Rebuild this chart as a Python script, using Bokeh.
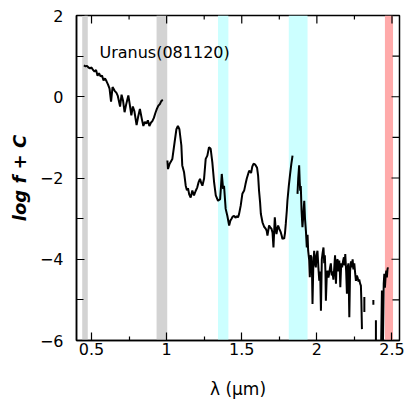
import math
from bokeh.plotting import figure
from bokeh.models import FixedTicker, Range1d, ColumnDataSource
from bokeh.core.properties import value
from bokeh.embed import file_html
from bokeh.resources import INLINE

NaN = float("nan")

# shaded wavelength bands (µm)
band_left = [0.438, 0.933, 1.342, 1.813, 2.453]
band_right = [0.475, 1.004, 1.411, 1.938, 2.507]
band_color = ["#d3d3d3", "#d3d3d3", "#ccffff", "#ccffff", "#ffaaaa"]

# spectrum: wavelength (µm) and log f + C, NaN marks gaps
wave = [
    0.449, 0.46, 0.47, 0.48, 0.49, 0.50, 0.51, 0.52, 0.53, 0.54, 0.55, 0.56, 0.57,
    0.58, 0.59, 0.60, 0.61, 0.62, 0.63, 0.64, 0.655, 0.665, 0.675, 0.69, 0.70, 0.71,
    0.72, 0.73, 0.745, 0.755, 0.765, 0.775, 0.785, 0.80, 0.81, 0.822, 0.835, 0.845,
    0.855, 0.865, 0.875, 0.885, 0.895, 0.905, 0.915, 0.925, 0.935, 0.945, 0.955,
    0.965, 0.975, NaN,
    1.005, 1.009, 1.02, 1.038, 1.053, 1.065, 1.075, 1.085, 1.098, 1.104, 1.116,
    1.127, 1.135, 1.142, 1.150, 1.160, 1.171, 1.182, 1.193, 1.204, 1.213, 1.222,
    1.230, 1.238, 1.249, 1.26, 1.271, 1.282, 1.293, 1.304, 1.316, 1.327, 1.342,
    1.356, 1.362, 1.367, 1.372, 1.376, 1.382, 1.393, 1.404, 1.416, 1.424, 1.431,
    1.440, 1.449, 1.458, 1.467, 1.475, 1.482, 1.493, 1.504, 1.516, 1.525, 1.533,
    1.541, 1.549, 1.556, 1.562, 1.570, 1.578, 1.586, 1.593, 1.602, 1.609, 1.615,
    1.622, 1.627, 1.638, 1.649, 1.660, 1.666, 1.671, 1.677, 1.682, 1.690, 1.698,
    1.705, 1.711, 1.716, 1.720, 1.726, 1.731, 1.737, 1.742, 1.750, 1.760, 1.766,
    1.771, 1.777, 1.782, 1.788, 1.793, 1.800, 1.804, 1.813, 1.822, 1.830, 1.838, NaN,
    1.871, 1.876, 1.882, 1.886, 1.889, 1.893, 1.898, 1.904, 1.910, 1.916, 1.921,
    1.927, 1.933, 1.938, 1.942, 1.949, 1.953, 1.958, 1.964, 1.968, 1.971, 1.976,
    1.982, 1.988, 1.993, 1.998, 2.004, 2.010, 2.016, 2.022, 2.027, 2.033, 2.038,
    2.044, 2.049, 2.053, 2.057, 2.060, 2.066, 2.071, 2.077, 2.082, 2.088, 2.093,
    2.099, 2.104, 2.110, 2.116, 2.121, 2.127, 2.132, 2.138, 2.143, 2.149, 2.153,
    2.156, 2.162, 2.168, 2.174, 2.180, 2.185, 2.189, 2.195, 2.200, 2.205, 2.210,
    2.216, 2.221, 2.227, 2.232, 2.238, 2.243, 2.249, 2.255, 2.260, 2.266, 2.271,
    2.277, 2.282, 2.288, 2.293, 2.296, 2.300, NaN,
    2.316, 2.316, NaN,
    2.376, 2.376, NaN,
    2.393, 2.393, NaN,
    2.428, 2.433, 2.437, 2.440, 2.445, 2.449, 2.453, 2.458, 2.462, 2.466, 2.470, 2.473,
]
logf = [
    0.77, 0.75, 0.76, 0.72, 0.70, 0.72, 0.66, 0.62, 0.66, 0.52, 0.58, 0.50, 0.52,
    0.40, 0.45, 0.38, 0.30, 0.20, -0.12, 0.24, 0.14, 0.10, 0.02, -0.24, 0.05, -0.10,
    -0.38, -0.20, 0.03, -0.20, -0.46, -0.24, -0.35, -0.70, -0.50, -0.30, -0.55, -0.72,
    -0.62, -0.66, -0.58, -0.72, -0.64, -0.60, -0.52, -0.40, -0.30, -0.22, -0.18,
    -0.10, -0.08, NaN,
    -1.57, -1.78, -1.65, -1.53, -1.12, -0.80, -0.72, -0.80, -1.20, -1.69, -1.86,
    -2.19, -2.30, -2.25, -2.40, -2.48, -2.31, -2.43, -2.32, -2.23, -2.10, -2.02,
    -2.12, -2.19, -2.02, -1.53, -1.45, -1.24, -1.28, -1.61, -2.11, -2.43, -2.56,
    -2.52, -2.20, -1.90, -2.10, -2.27, -2.19, -2.76, -2.93, -3.17, -3.05, -3.01,
    -2.95, -2.93, -2.98, -2.94, -2.97, -2.89, -2.68, -2.39, -2.31, -2.15, -2.02,
    -1.92, -1.82, -1.84, -1.88, -1.72, -1.65, -1.66, -1.69, -1.75, -1.95, -2.31,
    -2.60, -2.88, -3.09, -3.20, -3.25, -3.30, -3.42, -3.28, -3.17, -3.22, -3.25,
    -3.35, -3.71, -3.30, -2.97, -3.25, -3.38, -3.25, -3.17, -3.25, -3.34, -3.42,
    -3.50, -3.48, -3.50, -3.35, -3.13, -2.80, -2.56, -2.20, -1.90, -1.65, -1.45, NaN,
    -2.39, -2.00, -1.69, -2.10, -2.31, -2.20, -2.80, -3.21, -2.90, -2.56, -3.00,
    -3.30, -3.71, -3.40, -3.79, -4.03, -4.44, -3.90, -3.95, -4.40, -5.10, -4.20,
    -3.79, -4.10, -4.20, -3.90, -3.79, -4.20, -4.53, -4.30, -5.27, -4.00, -3.85,
    -3.71, -4.10, -3.90, -4.30, -5.02, -4.40, -4.28, -4.45, -4.35, -4.20, -4.10,
    -4.40, -4.30, -4.50, -4.20, -3.90, -4.60, -4.05, -4.00, -4.30, -4.03, -4.30,
    -4.69, -4.10, -4.20, -4.05, -3.95, -4.15, -3.87, -4.30, -4.85, -4.20, -4.10,
    -5.43, -4.30, -4.05, -4.20, -4.00, -4.25, -4.10, -4.35, -4.53, -4.40, -4.45,
    -4.55, -4.50, -4.60, -4.65, -5.00, -5.72, NaN,
    -4.93, -5.30, NaN,
    -5.00, -5.12, NaN,
    -5.50, -6.05, NaN,
    -6.05, -4.77, -5.20, -6.05, -4.60, -4.36, -4.70, -4.40, -4.28, -4.45, -4.25, -4.20,
]

x_ticks = [0.5, 1.0, 1.5, 2.0, 2.5]
x_tick_labels = ["0.5", "1", "1.5", "2", "2.5"]
x_minor = [0.75, 1.25, 1.75, 2.25]
y_ticks = [-6, -4, -2, 0, 2]
y_tick_labels = ["\u22126", "\u22124", "\u22122", "0", "2"]
y_minor = [-5, -3, -1, 1]

label_x = [0.553]
label_y = [1.09]
label_text = ["Uranus(081120)"]

FONT = "DejaVu Sans"
X0, X1 = 0.4, 2.55
Y0, Y1 = -6, 2

p = figure(width=406, height=410, output_backend="svg", toolbar_location=None,
           x_range=Range1d(X0, X1), y_range=Range1d(Y0, Y1),
           x_axis_label="\u03bb (\u03bcm)", y_axis_label="log f + C",
           min_border_left=76, min_border_right=7, min_border_top=15,
           min_border_bottom=70)
p.background_fill_color = "white"
p.border_fill_color = "white"
p.grid.visible = False
p.outline_line_color = "black"
p.outline_line_width = 1.5

band_src = ColumnDataSource(dict(left=band_left, right=band_right, color=band_color,
                                 top=[Y1] * len(band_left), bottom=[Y0] * len(band_left)))
p.quad(left="left", right="right", top="top", bottom="bottom", color="color",
       line_color=None, source=band_src)

p.line(wave, logf, line_color="black", line_width=2)

p.text(x=label_x, y=label_y, text=label_text, text_font=value(FONT),
       text_font_size="16px", text_baseline="middle", text_align="left",
       text_color="black")

# mirrored inward ticks on the top and right frame edges
p.ray(x=x_ticks, y=[Y1] * len(x_ticks), length=8, length_units="screen",
      angle=-math.pi / 2, line_color="black", line_width=1.2)
p.ray(x=x_minor, y=[Y1] * len(x_minor), length=4, length_units="screen",
      angle=-math.pi / 2, line_color="black", line_width=1.2)
p.ray(x=[X1] * len(y_ticks), y=y_ticks, length=8, length_units="screen",
      angle=math.pi, line_color="black", line_width=1.2)
p.ray(x=[X1] * len(y_minor), y=y_minor, length=7, length_units="screen",
      angle=math.pi, line_color="black", line_width=1.2)

bottom_ax = p.below[0]
left_ax = p.left[0]
xt = FixedTicker(ticks=x_ticks, minor_ticks=x_minor)
yt = FixedTicker(ticks=y_ticks, minor_ticks=y_minor)

for ax, tk, labs in ((bottom_ax, xt, x_tick_labels), (left_ax, yt, y_tick_labels)):
    ax.ticker = tk
    ax.axis_line_color = "black"
    ax.axis_line_width = 1.5
    ax.major_tick_line_color = "black"
    ax.minor_tick_line_color = "black"
    ax.major_tick_line_width = 1.2
    ax.minor_tick_line_width = 1.2
    ax.major_tick_in = 8
    ax.major_tick_out = 0
    ax.minor_tick_out = 0
    ax.major_label_text_font = FONT
    ax.major_label_text_font_size = "16px"
    ax.major_label_text_color = "black"
    ax.major_label_overrides = {t: l for t, l in zip(tk.ticks, labs)}
    ax.axis_label_text_font = FONT
    ax.axis_label_text_color = "black"

bottom_ax.minor_tick_in = 4
left_ax.minor_tick_in = 7

bottom_ax.major_label_standoff = 2
left_ax.major_label_standoff = 13

bottom_ax.axis_label_text_font_size = "17px"
bottom_ax.axis_label_text_font_style = "normal"
bottom_ax.axis_label_standoff = 21
left_ax.axis_label_text_font_size = "18px"
left_ax.axis_label_text_font_style = "bold italic"
left_ax.axis_label_standoff = 7

open("out.html", "w").write(file_html(p, INLINE))
